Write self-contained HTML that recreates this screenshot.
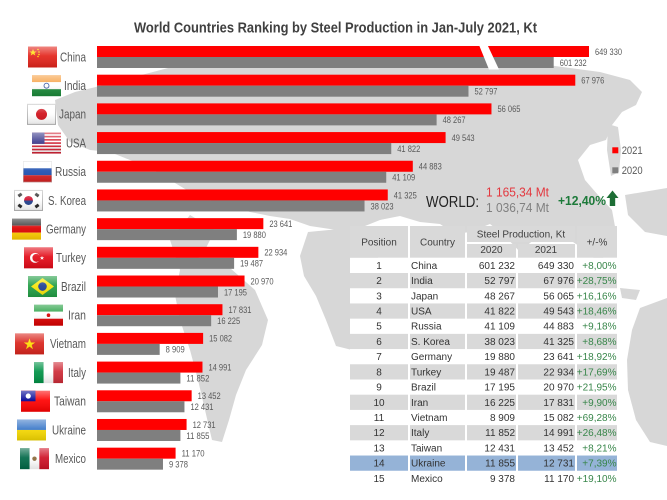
<!DOCTYPE html>
<html><head><meta charset="utf-8"><style>
html,body{margin:0;padding:0;background:#fff;}
svg{display:block;}
text{font-family:"Liberation Sans",Arial,sans-serif;}
</style></head><body>
<svg width="667" height="500" viewBox="0 0 667 500" xmlns="http://www.w3.org/2000/svg">
<defs>
<linearGradient id="gl" x1="0" y1="0" x2="0" y2="1">
<stop offset="0" stop-color="#fff" stop-opacity="0.45"/>
<stop offset="0.45" stop-color="#fff" stop-opacity="0.08"/>
<stop offset="1" stop-color="#000" stop-opacity="0.12"/>
</linearGradient>
</defs>
<rect width="667" height="500" fill="#fff"/>

<!-- world map -->
<g fill="#d7d7d7">
<path d="M55,100 L75,92 L100,86 L130,78 L172,67 L230,64 L300,62 L380,60 L460,62 L540,64 L600,72 L630,80 L642,92 L636,105 L622,112 L612,125 L606,140 L590,145 L578,160 L585,180 L598,195 L612,210 L616,232 L610,252 L598,262 L585,250 L570,240 L555,226 L540,234 L520,252 L505,236 L490,224 L470,232 L455,234 L440,224 L420,222 L400,216 L380,220 L365,226 L350,232 L330,229 L310,226 L290,219 L270,216 L250,212 L230,206 L210,200 L190,192 L170,180 L150,168 L130,160 L110,152 L90,150 L70,142 L58,125 Z"/>
<path d="M608,124 L618,127 L621,150 L619,172 L611,176 L607,150 Z"/>
<path d="M308,232 L350,228 L372,240 L382,270 L376,300 L366,330 L352,350 L336,346 L326,320 L316,296 L304,276 L300,256 Z"/>
<path d="M190,215 L215,230 L205,250 L195,262 L230,268 L255,290 L268,320 L262,345 L246,370 L236,395 L229,420 L222,442 L212,440 L205,410 L198,380 L190,350 L180,320 L175,295 L180,270 L170,240 Z"/>
<path d="M625,195 L667,188 L667,236 L645,232 L628,215 Z"/>
<path d="M640,308 L667,298 L667,446 L650,442 L636,420 L628,390 L627,360 L632,330 Z"/>
<path d="M620,288 L640,290 L636,300 L622,298 Z"/>
</g>

<!-- title -->
<text x="134" y="32.3" font-size="14.6" font-weight="bold" fill="#404040" textLength="403" lengthAdjust="spacingAndGlyphs">World Countries Ranking by Steel Production in Jan-July 2021, Kt</text>

<!-- bars -->
<g>
<rect x="97" y="46" width="492" height="11" fill="#ff0000"/><rect x="97" y="57" width="456.7" height="11" fill="#7f7f7f"/>
<rect x="97" y="74.69" width="478.28" height="11" fill="#ff0000"/><rect x="97" y="85.69" width="371.48" height="11" fill="#7f7f7f"/>
<rect x="97" y="103.38" width="394.47" height="11" fill="#ff0000"/><rect x="97" y="114.38" width="339.61" height="11" fill="#7f7f7f"/>
<rect x="97" y="132.07" width="348.59" height="11" fill="#ff0000"/><rect x="97" y="143.07" width="294.26" height="11" fill="#7f7f7f"/>
<rect x="97" y="160.76" width="315.8" height="11" fill="#ff0000"/><rect x="97" y="171.76" width="289.24" height="11" fill="#7f7f7f"/>
<rect x="97" y="189.45" width="290.76" height="11" fill="#ff0000"/><rect x="97" y="200.45" width="267.53" height="11" fill="#7f7f7f"/>
<rect x="97" y="218.14" width="166.34" height="11" fill="#ff0000"/><rect x="97" y="229.14" width="139.88" height="11" fill="#7f7f7f"/>
<rect x="97" y="246.83" width="161.36" height="11" fill="#ff0000"/><rect x="97" y="257.83" width="137.11" height="11" fill="#7f7f7f"/>
<rect x="97" y="275.52" width="147.54" height="11" fill="#ff0000"/><rect x="97" y="286.52" width="120.98" height="11" fill="#7f7f7f"/>
<rect x="97" y="304.21" width="125.46" height="11" fill="#ff0000"/><rect x="97" y="315.21" width="114.16" height="11" fill="#7f7f7f"/>
<rect x="97" y="332.9" width="106.12" height="11" fill="#ff0000"/><rect x="97" y="343.9" width="62.68" height="11" fill="#7f7f7f"/>
<rect x="97" y="361.59" width="105.48" height="11" fill="#ff0000"/><rect x="97" y="372.59" width="83.39" height="11" fill="#7f7f7f"/>
<rect x="97" y="390.28" width="94.65" height="11" fill="#ff0000"/><rect x="97" y="401.28" width="87.46" height="11" fill="#7f7f7f"/>
<rect x="97" y="418.97" width="89.58" height="11" fill="#ff0000"/><rect x="97" y="429.97" width="83.41" height="11" fill="#7f7f7f"/>
<rect x="97" y="447.66" width="78.59" height="11" fill="#ff0000"/><rect x="97" y="458.66" width="65.98" height="11" fill="#7f7f7f"/>
<polygon points="479,45 487.5,45 499,69.5 489,69.5" fill="#fff"/>
</g>

<!-- value labels -->
<g font-size="9.5" fill="#595959">
<text x="595" y="54.8" textLength="27" lengthAdjust="spacingAndGlyphs">649 330</text>
<text x="559.7" y="65.8" textLength="27" lengthAdjust="spacingAndGlyphs">601 232</text>
<text x="581.28" y="83.49" textLength="23" lengthAdjust="spacingAndGlyphs">67 976</text>
<text x="474.48" y="94.49" textLength="23" lengthAdjust="spacingAndGlyphs">52 797</text>
<text x="497.47" y="112.18" textLength="23" lengthAdjust="spacingAndGlyphs">56 065</text>
<text x="442.61" y="123.18" textLength="23" lengthAdjust="spacingAndGlyphs">48 267</text>
<text x="451.59" y="140.87" textLength="23" lengthAdjust="spacingAndGlyphs">49 543</text>
<text x="397.26" y="151.87" textLength="23" lengthAdjust="spacingAndGlyphs">41 822</text>
<text x="418.8" y="169.56" textLength="23" lengthAdjust="spacingAndGlyphs">44 883</text>
<text x="392.24" y="180.56" textLength="23" lengthAdjust="spacingAndGlyphs">41 109</text>
<text x="393.76" y="198.25" textLength="23" lengthAdjust="spacingAndGlyphs">41 325</text>
<text x="370.53" y="209.25" textLength="23" lengthAdjust="spacingAndGlyphs">38 023</text>
<text x="269.34" y="226.94" textLength="23" lengthAdjust="spacingAndGlyphs">23 641</text>
<text x="242.88" y="237.94" textLength="23" lengthAdjust="spacingAndGlyphs">19 880</text>
<text x="264.36" y="255.63" textLength="23" lengthAdjust="spacingAndGlyphs">22 934</text>
<text x="240.11" y="266.63" textLength="23" lengthAdjust="spacingAndGlyphs">19 487</text>
<text x="250.54" y="284.32" textLength="23" lengthAdjust="spacingAndGlyphs">20 970</text>
<text x="223.98" y="295.32" textLength="23" lengthAdjust="spacingAndGlyphs">17 195</text>
<text x="228.46" y="313.01" textLength="23" lengthAdjust="spacingAndGlyphs">17 831</text>
<text x="217.16" y="324.01" textLength="23" lengthAdjust="spacingAndGlyphs">16 225</text>
<text x="209.12" y="341.7" textLength="23" lengthAdjust="spacingAndGlyphs">15 082</text>
<text x="165.68" y="352.7" textLength="19" lengthAdjust="spacingAndGlyphs">8 909</text>
<text x="208.48" y="370.39" textLength="23" lengthAdjust="spacingAndGlyphs">14 991</text>
<text x="186.39" y="381.39" textLength="23" lengthAdjust="spacingAndGlyphs">11 852</text>
<text x="197.65" y="399.08" textLength="23" lengthAdjust="spacingAndGlyphs">13 452</text>
<text x="190.46" y="410.08" textLength="23" lengthAdjust="spacingAndGlyphs">12 431</text>
<text x="192.58" y="427.77" textLength="23" lengthAdjust="spacingAndGlyphs">12 731</text>
<text x="186.41" y="438.77" textLength="23" lengthAdjust="spacingAndGlyphs">11 855</text>
<text x="181.59" y="456.46" textLength="23" lengthAdjust="spacingAndGlyphs">11 170</text>
<text x="168.98" y="467.46" textLength="19" lengthAdjust="spacingAndGlyphs">9 378</text>
</g>

<!-- country labels -->
<g font-size="12.5" fill="#595959" text-anchor="end">
<text x="86" y="61.3" textLength="26" lengthAdjust="spacingAndGlyphs">China</text>
<text x="86" y="90" textLength="22" lengthAdjust="spacingAndGlyphs">India</text>
<text x="86" y="118.7" textLength="27" lengthAdjust="spacingAndGlyphs">Japan</text>
<text x="86" y="147.4" textLength="20" lengthAdjust="spacingAndGlyphs">USA</text>
<text x="86" y="176.1" textLength="31" lengthAdjust="spacingAndGlyphs">Russia</text>
<text x="86" y="204.8" textLength="38" lengthAdjust="spacingAndGlyphs">S. Korea</text>
<text x="86" y="233.4" textLength="40" lengthAdjust="spacingAndGlyphs">Germany</text>
<text x="86" y="262.1" textLength="30" lengthAdjust="spacingAndGlyphs">Turkey</text>
<text x="86" y="290.8" textLength="25" lengthAdjust="spacingAndGlyphs">Brazil</text>
<text x="86" y="319.5" textLength="18" lengthAdjust="spacingAndGlyphs">Iran</text>
<text x="86" y="348.2" textLength="36" lengthAdjust="spacingAndGlyphs">Vietnam</text>
<text x="86" y="376.9" textLength="18" lengthAdjust="spacingAndGlyphs">Italy</text>
<text x="86" y="405.6" textLength="32" lengthAdjust="spacingAndGlyphs">Taiwan</text>
<text x="86" y="434.3" textLength="34" lengthAdjust="spacingAndGlyphs">Ukraine</text>
<text x="86" y="463" textLength="31" lengthAdjust="spacingAndGlyphs">Mexico</text>
</g>

<!-- flags -->
<g>
<g transform="translate(28,46.5)"><rect width="29" height="21" fill="#e3241b"/><polygon points="5,2.5 6,5 8.6,5 6.5,6.5 7.3,9 5,7.5 2.7,9 3.5,6.5 1.4,5 4,5" fill="#ffde00"/><circle cx="10" cy="3" r="0.8" fill="#ffde00"/><circle cx="11" cy="5.5" r="0.8" fill="#ffde00"/><circle cx="11" cy="8" r="0.8" fill="#ffde00"/><circle cx="10" cy="10" r="0.8" fill="#ffde00"/><rect width="29" height="21" fill="url(#gl)"/></g>
<g transform="translate(32,75.19)"><rect width="29" height="7" fill="#f7a043"/><rect y="7" width="29" height="7" fill="#fff"/><rect y="14" width="29" height="7" fill="#1b8a3a"/><circle cx="14.5" cy="10.5" r="2.5" fill="none" stroke="#3050a0" stroke-width="0.8"/><rect width="29" height="21" fill="url(#gl)"/></g>
<g transform="translate(27,103.88)"><rect x="0.5" y="0.5" width="28" height="20" fill="#fff" stroke="#bbb"/><circle cx="14.5" cy="10.5" r="5.5" fill="#d0101a"/><rect width="29" height="21" fill="url(#gl)"/></g>
<g transform="translate(32,132.57)"><rect width="29" height="21" fill="#fff"/>
<rect y="0" width="29" height="1.62" fill="#d22234"/><rect y="3.23" width="29" height="1.62" fill="#d22234"/><rect y="6.46" width="29" height="1.62" fill="#d22234"/><rect y="9.69" width="29" height="1.62" fill="#d22234"/><rect y="12.92" width="29" height="1.62" fill="#d22234"/><rect y="16.15" width="29" height="1.62" fill="#d22234"/><rect y="19.38" width="29" height="1.62" fill="#d22234"/>
<rect width="12.5" height="11.3" fill="#3c3b8e"/><rect width="29" height="21" fill="url(#gl)"/></g>
<g transform="translate(23,161.26)"><rect width="29" height="7" fill="#fff"/><rect y="7" width="29" height="7" fill="#1d4fb0"/><rect y="14" width="29" height="7" fill="#d82020"/><rect x="0.25" y="0.25" width="28.5" height="20.5" fill="none" stroke="#ccc" stroke-width="0.5"/><rect width="29" height="21" fill="url(#gl)"/></g>
<g transform="translate(14,189.95)"><rect x="0.5" y="0.5" width="28" height="20" fill="#fff" stroke="#bbb"/><path d="M10,10.5 A4.5,4.5 0 0 1 19,10.5 Z" fill="#d2112e"/><path d="M10,10.5 A4.5,4.5 0 0 0 19,10.5 Z" fill="#1f3e8c"/>
<g fill="#222"><rect x="4" y="3.5" width="4" height="3" transform="rotate(-35 6 5)"/><rect x="21" y="3.5" width="4" height="3" transform="rotate(35 23 5)"/><rect x="4" y="14.5" width="4" height="3" transform="rotate(35 6 16)"/><rect x="21" y="14.5" width="4" height="3" transform="rotate(-35 23 16)"/></g><rect width="29" height="21" fill="url(#gl)"/></g>
<g transform="translate(12,218.64)"><rect width="29" height="7" fill="#333"/><rect y="7" width="29" height="7" fill="#dd0000"/><rect y="14" width="29" height="7" fill="#ffce00"/><rect width="29" height="21" fill="url(#gl)"/></g>
<g transform="translate(24,247.33)"><rect width="29" height="21" fill="#e30a17"/><circle cx="11" cy="10.5" r="5" fill="#fff"/><circle cx="12.4" cy="10.5" r="4" fill="#e30a17"/><polygon points="18,8.5 18.6,10 20.2,10 18.9,11 19.4,12.6 18,11.6 16.6,12.6 17.1,11 15.8,10 17.4,10" fill="#fff"/><rect width="29" height="21" fill="url(#gl)"/></g>
<g transform="translate(28,276.02)"><rect width="29" height="21" fill="#229e45"/><polygon points="3,10.5 14.5,2 26,10.5 14.5,19" fill="#f8e509"/><circle cx="14.5" cy="10.5" r="4.3" fill="#1e3f93"/><rect width="29" height="21" fill="url(#gl)"/></g>
<g transform="translate(34,304.71)"><rect width="29" height="7" fill="#239f40"/><rect y="7" width="29" height="7" fill="#fff"/><rect y="14" width="29" height="7" fill="#da0000"/><circle cx="14.5" cy="10.5" r="1.8" fill="#da0000"/><rect width="29" height="21" fill="url(#gl)"/></g>
<g transform="translate(15,333.4)"><rect width="29" height="21" fill="#da251d"/><polygon points="14.5,5 15.9,9.1 20.2,9.1 16.7,11.6 18,15.8 14.5,13.2 11,15.8 12.3,11.6 8.8,9.1 13.1,9.1" fill="#ffdf00"/><rect width="29" height="21" fill="url(#gl)"/></g>
<g transform="translate(34,362.09)"><rect width="9.67" height="21" fill="#009246"/><rect x="9.67" width="9.67" height="21" fill="#fff"/><rect x="19.33" width="9.67" height="21" fill="#ce2b37"/><rect width="29" height="21" fill="url(#gl)"/></g>
<g transform="translate(21,390.78)"><rect width="29" height="21" fill="#fe0000"/><rect width="14.5" height="10.5" fill="#000095"/><circle cx="7.25" cy="5.25" r="2.6" fill="#fff"/><rect width="29" height="21" fill="url(#gl)"/></g>
<g transform="translate(17,419.47)"><rect width="29" height="10.5" fill="#3a78c8"/><rect y="10.5" width="29" height="10.5" fill="#f5d800"/><rect width="29" height="21" fill="url(#gl)"/></g>
<g transform="translate(20,448.16)"><rect width="9.67" height="21" fill="#006847"/><rect x="9.67" width="9.67" height="21" fill="#fff"/><rect x="19.33" width="9.67" height="21" fill="#ce1126"/><circle cx="14.5" cy="10.5" r="2.2" fill="#8c6a3a"/><rect width="29" height="21" fill="url(#gl)"/></g>
</g>

<!-- legend -->
<rect x="612.3" y="147.3" width="6" height="6" fill="#ff0000"/>
<text x="621.7" y="154.2" font-size="11" fill="#595959" textLength="21" lengthAdjust="spacingAndGlyphs">2021</text>
<rect x="612.3" y="167.3" width="6" height="6" fill="#7f7f7f"/>
<text x="621.7" y="174.2" font-size="11" fill="#595959" textLength="21" lengthAdjust="spacingAndGlyphs">2020</text>

<!-- WORLD -->
<text x="426" y="207" font-size="15.5" fill="#222" textLength="53" lengthAdjust="spacingAndGlyphs">WORLD:</text>
<text x="486" y="196.3" font-size="13" fill="#e3373e" textLength="63" lengthAdjust="spacingAndGlyphs">1 165,34 Mt</text>
<text x="486" y="211.8" font-size="13" fill="#808080" textLength="63" lengthAdjust="spacingAndGlyphs">1 036,74 Mt</text>
<text x="558" y="205.2" font-size="13" font-weight="bold" fill="#1d7a3a" textLength="48" lengthAdjust="spacingAndGlyphs">+12,40%</text>
<polygon points="612.5,190.5 618.5,198 615.2,198 615.2,206 609.8,206 609.8,198 606.5,198" fill="#1d6e35"/>

<!-- table -->
<g>
<rect x="350" y="226" width="58" height="31.8" fill="#d9d9d9"/>
<rect x="410" y="226" width="55" height="31.8" fill="#d9d9d9"/>
<rect x="467" y="226" width="108" height="16" fill="#d9d9d9"/>
<rect x="467" y="244" width="49" height="13.8" fill="#d9d9d9"/>
<rect x="518" y="244" width="57" height="13.8" fill="#d9d9d9"/>
<rect x="577" y="226" width="40" height="31.8" fill="#d9d9d9"/>
<rect x="350" y="257.8" width="267" height="228.2" fill="#fff"/>
<g fill="#d9d9d9">
<rect x="350" y="273.01" width="58" height="15.21"/><rect x="410" y="273.01" width="55" height="15.21"/><rect x="467" y="273.01" width="49" height="15.21"/><rect x="518" y="273.01" width="57" height="15.21"/><rect x="577" y="273.01" width="40" height="15.21"/>
<rect x="350" y="303.43" width="58" height="15.21"/><rect x="410" y="303.43" width="55" height="15.21"/><rect x="467" y="303.43" width="49" height="15.21"/><rect x="518" y="303.43" width="57" height="15.21"/><rect x="577" y="303.43" width="40" height="15.21"/>
<rect x="350" y="333.85" width="58" height="15.21"/><rect x="410" y="333.85" width="55" height="15.21"/><rect x="467" y="333.85" width="49" height="15.21"/><rect x="518" y="333.85" width="57" height="15.21"/><rect x="577" y="333.85" width="40" height="15.21"/>
<rect x="350" y="364.27" width="58" height="15.21"/><rect x="410" y="364.27" width="55" height="15.21"/><rect x="467" y="364.27" width="49" height="15.21"/><rect x="518" y="364.27" width="57" height="15.21"/><rect x="577" y="364.27" width="40" height="15.21"/>
<rect x="350" y="394.69" width="58" height="15.21"/><rect x="410" y="394.69" width="55" height="15.21"/><rect x="467" y="394.69" width="49" height="15.21"/><rect x="518" y="394.69" width="57" height="15.21"/><rect x="577" y="394.69" width="40" height="15.21"/>
<rect x="350" y="425.11" width="58" height="15.21"/><rect x="410" y="425.11" width="55" height="15.21"/><rect x="467" y="425.11" width="49" height="15.21"/><rect x="518" y="425.11" width="57" height="15.21"/><rect x="577" y="425.11" width="40" height="15.21"/>
</g>
<g fill="#95b3d7">
<rect x="350" y="455.53" width="58" height="15.21"/><rect x="410" y="455.53" width="55" height="15.21"/><rect x="467" y="455.53" width="49" height="15.21"/><rect x="518" y="455.53" width="57" height="15.21"/><rect x="577" y="455.53" width="40" height="15.21"/>
</g>
<g font-size="10" fill="#404040" text-anchor="middle">
<text x="379" y="245.3">Position</text>
<text x="437.5" y="245.3">Country</text>
<text x="521" y="237.6">Steel Production,  Kt</text>
<text x="491.5" y="252.8">2020</text>
<text x="546" y="252.8">2021</text>
<text x="597" y="245.3">+/-%</text>
</g>
<g font-size="10" fill="#333" text-anchor="middle">
<text x="379" y="268.9">1</text><text x="379" y="284.11">2</text><text x="379" y="299.32">3</text><text x="379" y="314.53">4</text><text x="379" y="329.74">5</text><text x="379" y="344.95">6</text><text x="379" y="360.16">7</text><text x="379" y="375.37">8</text><text x="379" y="390.58">9</text><text x="379" y="405.79">10</text><text x="379" y="421">11</text><text x="379" y="436.21">12</text><text x="379" y="451.42">13</text><text x="379" y="466.63">14</text><text x="379" y="481.84">15</text>
</g>
<g font-size="10" fill="#333">
<text x="411" y="268.9">China</text><text x="411" y="284.11">India</text><text x="411" y="299.32">Japan</text><text x="411" y="314.53">USA</text><text x="411" y="329.74">Russia</text><text x="411" y="344.95">S. Korea</text><text x="411" y="360.16">Germany</text><text x="411" y="375.37">Turkey</text><text x="411" y="390.58">Brazil</text><text x="411" y="405.79">Iran</text><text x="411" y="421">Vietnam</text><text x="411" y="436.21">Italy</text><text x="411" y="451.42">Taiwan</text><text x="411" y="466.63">Ukraine</text><text x="411" y="481.84">Mexico</text>
</g>
<g font-size="10" fill="#333" text-anchor="end">
<text x="515" y="268.9">601 232</text><text x="515" y="284.11">52 797</text><text x="515" y="299.32">48 267</text><text x="515" y="314.53">41 822</text><text x="515" y="329.74">41 109</text><text x="515" y="344.95">38 023</text><text x="515" y="360.16">19 880</text><text x="515" y="375.37">19 487</text><text x="515" y="390.58">17 195</text><text x="515" y="405.79">16 225</text><text x="515" y="421">8 909</text><text x="515" y="436.21">11 852</text><text x="515" y="451.42">12 431</text><text x="515" y="466.63">11 855</text><text x="515" y="481.84">9 378</text>
</g>
<g font-size="10" fill="#333" text-anchor="end">
<text x="574" y="268.9">649 330</text><text x="574" y="284.11">67 976</text><text x="574" y="299.32">56 065</text><text x="574" y="314.53">49 543</text><text x="574" y="329.74">44 883</text><text x="574" y="344.95">41 325</text><text x="574" y="360.16">23 641</text><text x="574" y="375.37">22 934</text><text x="574" y="390.58">20 970</text><text x="574" y="405.79">17 831</text><text x="574" y="421">15 082</text><text x="574" y="436.21">14 991</text><text x="574" y="451.42">13 452</text><text x="574" y="466.63">12 731</text><text x="574" y="481.84">11 170</text>
</g>
<g font-size="10" fill="#38864a" text-anchor="end">
<text x="616.5" y="268.9">+8,00%</text><text x="616.5" y="284.11">+28,75%</text><text x="616.5" y="299.32">+16,16%</text><text x="616.5" y="314.53">+18,46%</text><text x="616.5" y="329.74">+9,18%</text><text x="616.5" y="344.95">+8,68%</text><text x="616.5" y="360.16">+18,92%</text><text x="616.5" y="375.37">+17,69%</text><text x="616.5" y="390.58">+21,95%</text><text x="616.5" y="405.79">+9,90%</text><text x="616.5" y="421">+69,28%</text><text x="616.5" y="436.21">+26,48%</text><text x="616.5" y="451.42">+8,21%</text><text x="616.5" y="466.63">+7,39%</text><text x="616.5" y="481.84">+19,10%</text>
</g>
</g>
</svg>
</body></html>
